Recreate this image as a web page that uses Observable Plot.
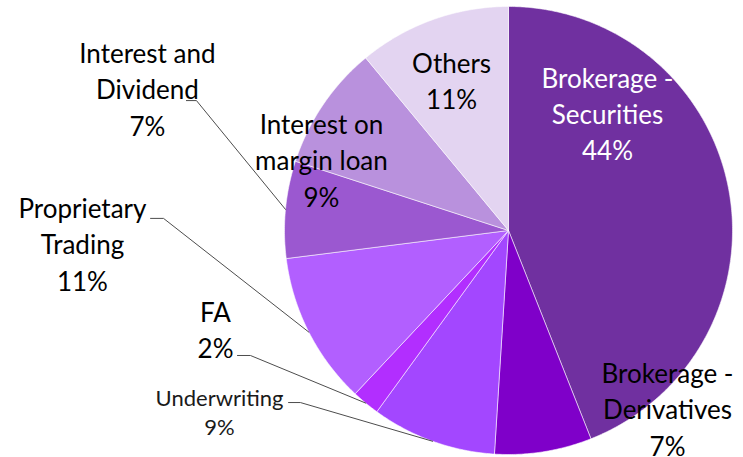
<!DOCTYPE html>
<html>
<head>
<meta charset="utf-8">
<script src="https://cdn.jsdelivr.net/npm/d3@7"></script>
<script src="https://cdn.jsdelivr.net/npm/@observablehq/plot@0.6"></script>
<style>
  html, body { margin: 0; padding: 0; background: #fff; }
  #chart svg { display: block; }
</style>
</head>
<body>
<div id="chart"></div>
<script>
// ---- data ----
const categories = ["Brokerage - Securities", "Brokerage - Derivatives", "Underwriting", "FA",
  "Proprietary Trading", "Interest and Dividend", "Interest on margin loan", "Others"];
const shares = [44, 7, 9, 2, 11, 7, 9, 11];
const labelNames = ["Brokerage -\nSecurities", "Brokerage -\nDerivatives", "Underwriting", "FA",
  "Proprietary\nTrading", "Interest and\nDividend", "Interest on\nmargin loan", "Others"];

// ---- styles / layout (radius units, pie centre at 0,0) ----
const colors = ["#7030A0", "#7F00C9", "#A347FF", "#B22EFF", "#B25FFF", "#9B58D0", "#B991DD", "#E3D4F1"];
const textColors = ["#ffffff", "#000000", "#1a1a1a", "#000000", "#000000", "#000000", "#000000", "#000000"];
const labelPos = [[0.442, 0.527], [0.710, -0.79], [-1.290, -0.808], [-1.308, -0.4375],
  [-1.902, -0.054], [-1.612, 0.638], [-0.835, 0.321], [-0.254, 0.674]];
// elbow of leader lines: [x1, x2, y] (null = label inside)
const elbows = [null, null, [-0.982, -0.929, -0.768], [-1.210, -1.152, -0.558],
  [-1.598, -1.540, 0.054], [-1.438, -1.393, 0.580], null, null];

const W = 743, H = 457, cx = 508, cy = 230, R = 224;

const arcs = d3.pie().sort(null).value(d => d)(shares);

// slice polygons
const slicePts = [];
arcs.forEach((a, i) => {
  const n = Math.max(4, Math.ceil((a.endAngle - a.startAngle) / (Math.PI / 360)));
  slicePts.push({cat: categories[i], x: 0, y: 0});
  for (let k = 0; k <= n; k++) {
    const t = a.startAngle + (a.endAngle - a.startAngle) * k / n;
    slicePts.push({cat: categories[i], x: Math.sin(t), y: Math.cos(t)});
  }
  slicePts.push({cat: categories[i], x: 0, y: 0});
});

// leader lines
const leaderPts = [];
arcs.forEach((a, i) => {
  const e = elbows[i];
  if (!e) return;
  const m = (a.startAngle + a.endAngle) / 2;
  leaderPts.push({cat: categories[i], x: e[0], y: e[2]});
  leaderPts.push({cat: categories[i], x: e[1], y: e[2]});
  leaderPts.push({cat: categories[i], x: Math.sin(m), y: Math.cos(m)});
});

const labels = categories.map((c, i) => ({
  cat: c,
  text: labelNames[i] + "\n" + shares[i] + "%",
  x: labelPos[i][0], y: labelPos[i][1],
  color: textColors[i],
  small: c === "Underwriting"
}));

const plot = Plot.plot({
  width: W, height: H,
  marginTop: 0, marginBottom: 0, marginLeft: 0, marginRight: 0,
  x: {domain: [-cx / R, (W - cx) / R], range: [0, W], axis: null},
  y: {domain: [cy / R, -(H - cy) / R], range: [0, H], axis: null},
  color: {domain: categories, range: colors},
  style: {fontFamily: "Lato, 'Noto Sans', sans-serif", background: "#fff"},
  marks: [
    Plot.line(slicePts, {x: "x", y: "y", z: "cat", fill: "cat", stroke: "#ffffff", strokeWidth: 0.8, strokeOpacity: 0.7}),
    Plot.line(leaderPts, {x: "x", y: "y", z: "cat", stroke: "#4d4d4d", strokeWidth: 1}),
    Plot.text(labels.filter(d => !d.small), {x: "x", y: "y", text: "text", fill: d => d.color,
      fontSize: 26, lineHeight: 1.4, textAnchor: "middle", lineAnchor: "middle"}),
    Plot.text(labels.filter(d => d.small), {x: "x", y: "y", text: "text", fill: d => d.color,
      fontSize: 22, lineHeight: 1.3, textAnchor: "middle", lineAnchor: "middle"})
  ]
});
document.getElementById("chart").appendChild(plot);
</script>
</body>
</html>
